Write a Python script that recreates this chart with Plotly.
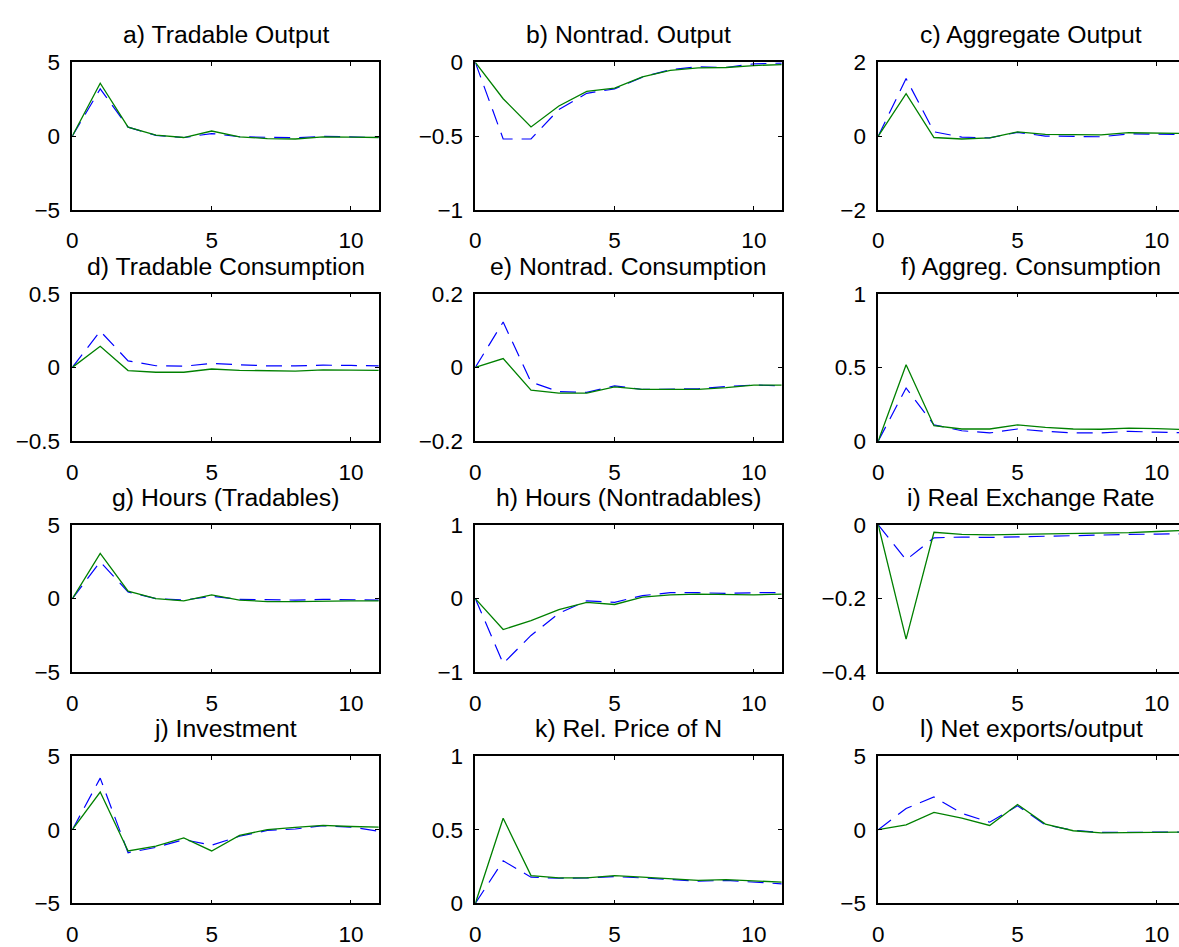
import plotly.graph_objects as go

# ---------------- data ----------------
periods = list(range(12))

titles = [
    "a) Tradable Output", "b) Nontrad. Output", "c) Aggregate Output",
    "d) Tradable Consumption", "e) Nontrad. Consumption", "f) Aggreg. Consumption",
    "g) Hours (Tradables)", "h) Hours (Nontradables)", "i) Real Exchange Rate",
    "j) Investment", "k) Rel. Price of N", "l) Net exports/output",
]

# solid green series
tradable_output_solid = [0, 3.58, 0.6, 0.06, -0.1, 0.34, -0.05, -0.17, -0.2, -0.06, -0.08, -0.1]
nontrad_output_solid = [0, -0.247, -0.438, -0.296, -0.197, -0.175, -0.099, -0.055, -0.037, -0.035, -0.022, -0.015]
aggregate_output_solid = [0, 1.15, -0.04, -0.08, -0.05, 0.115, 0.045, 0.03, 0.03, 0.09, 0.08, 0.07]
tradable_cons_solid = [0, 0.143, -0.022, -0.033, -0.033, -0.011, -0.02, -0.025, -0.025, -0.017, -0.017, -0.02]
nontrad_cons_solid = [0, 0.024, -0.062, -0.07, -0.07, -0.053, -0.06, -0.06, -0.06, -0.055, -0.048, -0.048]
aggreg_cons_solid = [0, 0.518, 0.104, 0.082, 0.082, 0.11, 0.093, 0.082, 0.08, 0.088, 0.085, 0.077]
hours_trad_solid = [0, 3.07, 0.5, 0.0, -0.15, 0.25, -0.1, -0.2, -0.2, -0.15, -0.15, -0.15]
hours_nontrad_solid = [0, -0.42, -0.3, -0.15, -0.05, -0.08, 0.02, 0.05, 0.06, 0.05, 0.05, 0.06]
real_exch_solid = [0, -0.31, -0.02, -0.026, -0.027, -0.026, -0.025, -0.024, -0.022, -0.021, -0.018, -0.015]
investment_solid = [0, 2.56, -1.44, -1.11, -0.56, -1.44, -0.38, 0.0, 0.16, 0.29, 0.22, 0.18]
rel_price_solid = [0, 0.578, 0.189, 0.173, 0.173, 0.189, 0.178, 0.167, 0.156, 0.162, 0.151, 0.144]
net_exports_solid = [0, 0.33, 1.18, 0.78, 0.29, 1.71, 0.38, -0.07, -0.22, -0.18, -0.18, -0.16]

# dashed blue series
tradable_output_dashed = [0, 3.2, 0.6, 0.05, -0.1, 0.17, -0.05, -0.1, -0.12, -0.02, -0.05, -0.1]
nontrad_output_dashed = [0, -0.52, -0.52, -0.32, -0.21, -0.18, -0.1, -0.05, -0.03, -0.035, -0.01, -0.005]
aggregate_output_dashed = [0, 1.56, 0.115, -0.03, -0.05, 0.1, 0.0, -0.01, -0.02, 0.06, 0.05, 0.04]
tradable_cons_dashed = [0, 0.246, 0.044, 0.011, 0.008, 0.026, 0.018, 0.01, 0.01, 0.015, 0.013, 0.01]
nontrad_cons_dashed = [0, 0.123, -0.04, -0.066, -0.068, -0.05, -0.06, -0.06, -0.058, -0.052, -0.048, -0.05]
aggreg_cons_dashed = [0, 0.36, 0.11, 0.07, 0.055, 0.082, 0.066, 0.055, 0.055, 0.066, 0.06, 0.057]
hours_trad_dashed = [0, 2.5, 0.45, 0.0, -0.1, 0.15, -0.05, -0.1, -0.1, -0.05, -0.05, -0.1]
hours_nontrad_dashed = [0, -0.88, -0.5, -0.2, -0.03, -0.05, 0.04, 0.08, 0.08, 0.07, 0.08, 0.08]
real_exch_dashed = [0, -0.095, -0.035, -0.033, -0.034, -0.032, -0.031, -0.029, -0.028, -0.026, -0.025, -0.024]
investment_dashed = [0, 3.5, -1.56, -1.2, -0.67, -1.05, -0.44, -0.05, 0.05, 0.27, 0.18, -0.1]
rel_price_dashed = [0, 0.289, 0.178, 0.171, 0.173, 0.182, 0.173, 0.162, 0.151, 0.156, 0.144, 0.133]
net_exports_dashed = [0, 1.44, 2.22, 1.11, 0.51, 1.62, 0.33, -0.04, -0.18, -0.18, -0.18, -0.16]

solid_series = [
    tradable_output_solid, nontrad_output_solid, aggregate_output_solid,
    tradable_cons_solid, nontrad_cons_solid, aggreg_cons_solid,
    hours_trad_solid, hours_nontrad_solid, real_exch_solid,
    investment_solid, rel_price_solid, net_exports_solid,
]
dashed_series = [
    tradable_output_dashed, nontrad_output_dashed, aggregate_output_dashed,
    tradable_cons_dashed, nontrad_cons_dashed, aggreg_cons_dashed,
    hours_trad_dashed, hours_nontrad_dashed, real_exch_dashed,
    investment_dashed, rel_price_dashed, net_exports_dashed,
]

y_limits = [
    (-5, 5), (-1, 0), (-2, 2),
    (-0.5, 0.5), (-0.2, 0.2), (0, 1),
    (-5, 5), (-1, 1), (-0.4, 0),
    (-5, 5), (0, 1), (-5, 5),
]
x_tick_values = [0, 5, 10]

# ---------------- layout geometry (pixels) ----------------
W, H = 1179, 947
col_left = [66.7, 471.7, 876.7]
px_per_period = 28.0
plot_w = 11 * px_per_period
row_top = [51.7, 289.3, 526.8, 764.2]
plot_h = 151.4

FONT = "Liberation Sans, Arial, Helvetica, sans-serif"
TICK_SIZE = 22.5
TITLE_SIZE = 24.75

fig = go.Figure()
layout = dict(
    width=W, height=H,
    margin=dict(l=0, r=0, t=0, b=0),
    paper_bgcolor="white", plot_bgcolor="white",
    showlegend=False,
    font=dict(family=FONT, size=TICK_SIZE, color="black"),
)
annotations = []

for i in range(12):
    r, c = divmod(i, 3)
    ax = "" if i == 0 else str(i + 1)
    x0 = col_left[c]
    x1_full = x0 + plot_w
    x1 = min(x1_full, W)
    xmax = (x1 - x0) / px_per_period
    yt = row_top[r]
    yb = yt + plot_h

    fig.add_trace(go.Scatter(
        x=periods, y=dashed_series[i], mode="lines",
        line=dict(color="rgb(0,0,255)", width=1.2, dash="16px,9px"),
        xaxis="x" + ax, yaxis="y" + ax, hoverinfo="skip"))
    fig.add_trace(go.Scatter(
        x=periods, y=solid_series[i], mode="lines",
        line=dict(color="rgb(0,128,0)", width=1.3),
        xaxis="x" + ax, yaxis="y" + ax, hoverinfo="skip"))

    lo, hi = y_limits[i]
    clipped = x1_full > W
    layout["xaxis" + ax] = dict(
        domain=[x0 / W, x1 / W], range=[0, xmax], anchor="y" + ax,
        tickvals=x_tick_values, ticks="inside", ticklen=4, tickwidth=1.2,
        tickcolor="black", showline=True, linecolor="black", linewidth=1.5,
        mirror="ticks", showgrid=False, zeroline=False,
        tickfont=dict(family=FONT, size=TICK_SIZE, color="black"),
        ticklabelstandoff=10, fixedrange=True,
    )
    layout["yaxis" + ax] = dict(
        domain=[1 - yb / H, 1 - yt / H], range=[lo, hi], anchor="x" + ax,
        tickvals=[lo, (lo + hi) / 2, hi], ticks="inside", ticklen=4, tickwidth=1.2,
        tickcolor="black", showline=True, linecolor="black", linewidth=1.5,
        mirror=False if clipped else "ticks", showgrid=False, zeroline=False,
        tickfont=dict(family=FONT, size=TICK_SIZE, color="black"),
        ticklabelstandoff=6, fixedrange=True,
    )
    annotations.append(dict(
        text=titles[i], x=(x0 + x1_full) / 2 / W, y=1 - yt / H,
        xref="paper", yref="paper", xanchor="center", yanchor="bottom",
        yshift=12, showarrow=False,
        font=dict(family=FONT, size=TITLE_SIZE, color="black"),
    ))

layout["annotations"] = annotations
fig.update_layout(**layout)
fig.write_html("out.html")
